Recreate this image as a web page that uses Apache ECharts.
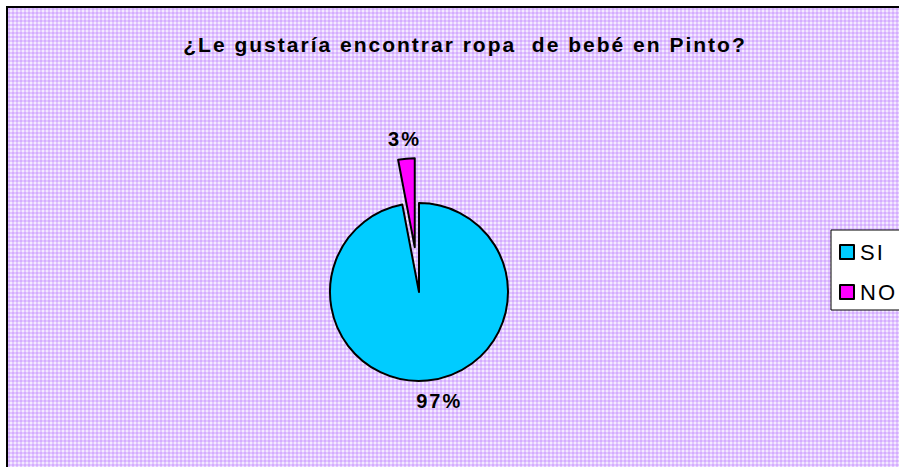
<!DOCTYPE html>
<html><head><meta charset="utf-8">
<script src="https://cdn.jsdelivr.net/npm/echarts@6/dist/echarts.min.js"></script>
<style>html,body{margin:0;padding:0;background:#fff}#c{width:899px;height:467px}
#c svg text{letter-spacing:2px}</style>
</head><body><div id="c"></div>
<script>
const titleText = '¿Le gustaría encontrar ropa  de bebé en Pinto?';
const categories = ['SI', 'NO'];
const values = [97, 3];
const colors = ['#00CCFF', '#FF00FF'];

// background dotted lavender tile
const tile = document.createElement('canvas');
tile.width = 4; tile.height = 4;
const g = tile.getContext('2d');
g.fillStyle = '#F4EAFF'; g.fillRect(0,0,4,4);
g.fillStyle = '#D4ADFF'; g.fillRect(0,0,4,2); g.fillRect(0,0,2,4);
g.fillStyle = '#E2C6FF'; g.fillRect(2,0,2,2); g.fillRect(0,2,2,2);

const chart = echarts.init(document.getElementById('c'), null, {renderer:'svg'});
chart.setOption({
  backgroundColor: '#fff',
  animation: false,
  graphic: [{
    type: 'rect', z: -10, silent: true,
    shape: {x: 7, y: 7, width: 900, height: 470},
    style: {fill: {image: tile, repeat: 'repeat', imageWidth: 4, imageHeight: 4}, stroke: '#000', lineWidth: 2}
  }],
  title: {
    text: titleText, left: 460, top: 29, textAlign: 'center',
    textStyle: {fontFamily: 'Liberation Sans, Arial', fontWeight: 'bold', fontSize: 21, color: '#000'}
  },
  legend: {
    orient: 'vertical', left: 831, top: 230,
    backgroundColor: '#fff', borderColor: '#000', borderWidth: 1,
    padding: [11, 40, 7, 8], itemGap: 18,
    itemWidth: 14, itemHeight: 14, icon: 'rect',
    textStyle: {fontFamily: 'Liberation Sans, Arial', fontSize: 22, color: '#000', padding: [0,0,0,1]},
    data: categories
  },
  series: [{
    type: 'pie', center: [419, 292], radius: 89,
    startAngle: 90, clockwise: true,
    selectedMode: 'single', selectedOffset: 45,
    itemStyle: {borderColor: '#000', borderWidth: 2},
    label: {
      show: true, position: 'outside', formatter: '{d}%',
      fontFamily: 'Liberation Sans, Arial', fontWeight: 'bold', fontSize: 20, color: '#000'
    },
    labelLine: {show: false, length: 20, length2: 0},
    labelLayout: {align: 'center', verticalAlign: 'middle', dx: 5},
    data: categories.map((c, i) => ({
      name: c, value: values[i], selected: i === 1,
      itemStyle: {color: colors[i]}
    }))
  }]
});
</script></body></html>
